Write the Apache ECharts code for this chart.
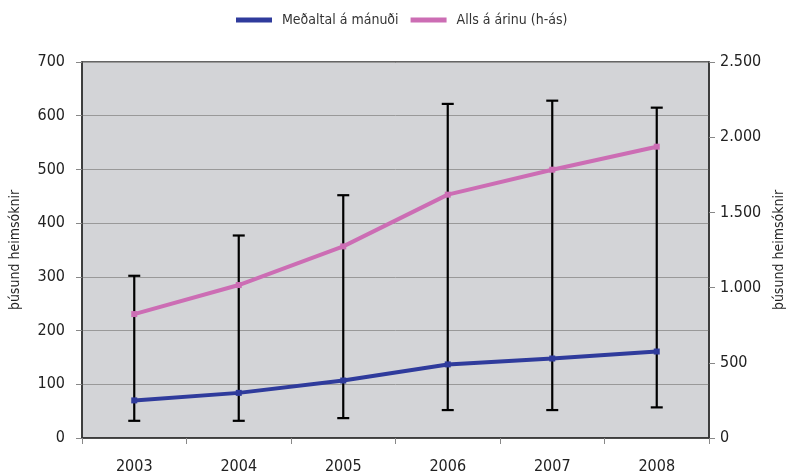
<!DOCTYPE html>
<html>
<head>
<meta charset="utf-8">
<script src="https://cdn.jsdelivr.net/npm/echarts@6/dist/echarts.min.js"></script>
<style>
html,body{margin:0;padding:0;background:#fff;}
#chart{width:790px;height:475px;}
</style>
</head>
<body>
<div id="chart"></div>
<script>
const years = ['2003','2004','2005','2006','2007','2008'];
const monthlyAvg = [70, 84, 107, 137, 148, 161];
const monthlyMin = [32, 32, 37, 52, 52, 57];
const monthlyMax = [302, 377, 452, 622, 628, 615];
const yearTotal = [824, 1017, 1274, 1618, 1784, 1937];
const leftTicks = [0,100,200,300,400,500,600,700];
const rightTicks = [0,500,1000,1500,2000,2500];

const FONT = '"DejaVu Sans Condensed","Liberation Sans Narrow",sans-serif';
const errData = years.map((y,i)=>[i, monthlyMin[i], monthlyMax[i]]);

const chart = echarts.init(document.getElementById('chart'));
chart.setOption({
  animation:false,
  backgroundColor:'#fff',
  textStyle:{fontFamily:FONT},
  legend:{
    top:8, left:231,
    data:['Meðaltal á mánuði','Alls á árinu (h-ás)'],
    icon:'rect', itemWidth:36, itemHeight:5, itemGap:12,
    textStyle:{fontFamily:FONT,fontSize:14,color:'#333',padding:[0,0,0,5]}
  },
  grid:{left:82,right:81,top:62,bottom:37,outerBoundsMode:'none',containLabel:false,show:true,backgroundColor:'#d3d4d7',borderColor:'#333',borderWidth:1.5},
  xAxis:{
    type:'category', data:years, boundaryGap:true,
    axisLine:{lineStyle:{color:'#333',width:1.5}},
    axisTick:{show:true,length:6,lineStyle:{color:'#888'},alignWithLabel:false},
    axisLabel:{margin:21,fontSize:16,color:'#222',fontFamily:FONT}
  },
  yAxis:[{
    type:'value', min:0, max:700, interval:100,
    name:'þúsund heimsóknir', nameLocation:'middle', nameGap:60, nameRotate:90,
    nameTextStyle:{fontSize:14,color:'#222',fontFamily:FONT},
    axisLine:{show:true,lineStyle:{color:'#333',width:1.5}},
    axisTick:{show:true,length:6,lineStyle:{color:'#888'}},
    axisLabel:{margin:17,fontSize:16,color:'#222',fontFamily:FONT},
    splitLine:{show:true,lineStyle:{color:'#999',width:1}}
  },{
    type:'value', min:0, max:2500, interval:500, position:'right',
    name:'þúsund heimsóknir', nameLocation:'middle', nameGap:63, nameRotate:90,
    nameTextStyle:{fontSize:14,color:'#222',fontFamily:FONT},
    axisLine:{show:true,lineStyle:{color:'#333',width:1.5}},
    axisTick:{show:true,length:6,lineStyle:{color:'#888'}},
    axisLabel:{margin:11,fontSize:16,color:'#222',fontFamily:FONT,
      formatter:v=>v.toLocaleString('de-DE')},
    splitLine:{show:false}
  }],
  series:[{
    type:'custom', name:'err', z:2,
    renderItem:function(params, api){
      const x = api.value(0);
      const lo = api.coord([x, api.value(1)]);
      const hi = api.coord([x, api.value(2)]);
      const w = 6;
      const style = {stroke:'#000', lineWidth:2.2, fill:null};
      return {type:'group', children:[
        {type:'line', shape:{x1:lo[0],y1:lo[1],x2:hi[0],y2:hi[1]}, style:style},
        {type:'line', shape:{x1:hi[0]-w,y1:hi[1],x2:hi[0]+w,y2:hi[1]}, style:style},
        {type:'line', shape:{x1:lo[0]-w,y1:lo[1],x2:lo[0]+w,y2:lo[1]}, style:style}
      ]};
    },
    encode:{x:0,y:[1,2]},
    data:errData
  },{
    name:'Meðaltal á mánuði', type:'line', yAxisIndex:0, z:3,
    data:monthlyAvg, symbol:'rect', symbolSize:6,
    lineStyle:{color:'#2f3b9c',width:4},
    itemStyle:{color:'#2f3b9c'}
  },{
    name:'Alls á árinu (h-ás)', type:'line', yAxisIndex:1, z:3,
    data:yearTotal, symbol:'rect', symbolSize:6,
    lineStyle:{color:'#cc6db4',width:4},
    itemStyle:{color:'#cc6db4'}
  }]
});
</script>
</body>
</html>
